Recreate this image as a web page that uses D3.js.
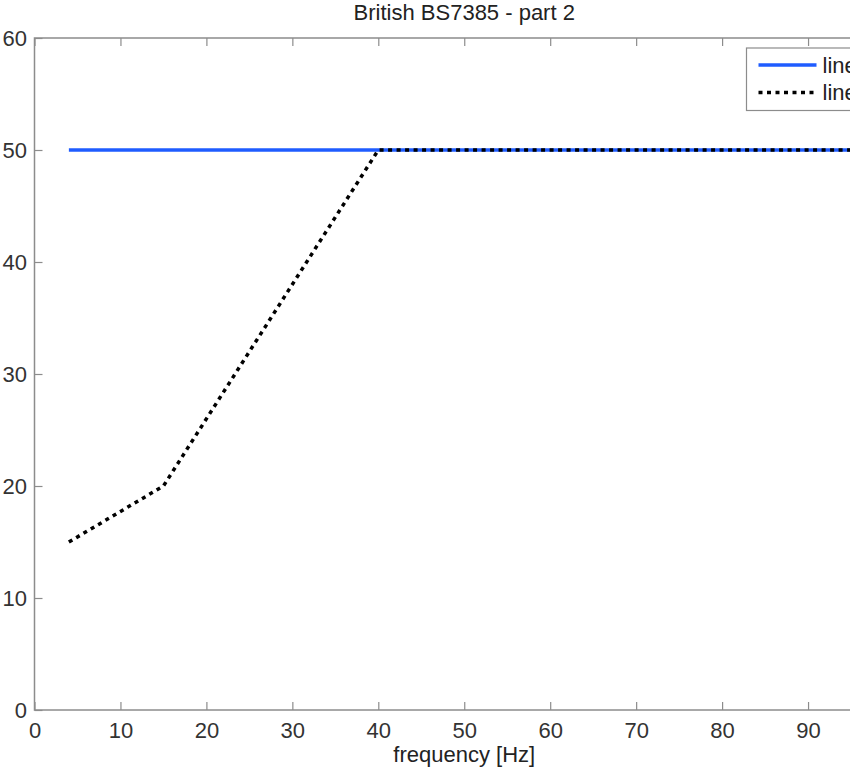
<!DOCTYPE html>
<html>
<head>
<meta charset="utf-8">
<script src="https://cdn.jsdelivr.net/npm/d3@7"></script>
<style>
  body { margin: 0; background: #fff; }
  svg { display: block; font-family: "Liberation Sans", Arial, sans-serif; }
</style>
</head>
<body>
<div id="chart"></div>
<script>

// data
var limitFreq = [4, 100];
var limitVal = [50, 50];
var curveFreq = [4, 15, 40, 100];
var curveVal = [15, 20, 50, 50];
var xTicks = [0, 10, 20, 30, 40, 50, 60, 70, 80, 90, 100];
var yTicks = [0, 10, 20, 30, 40, 50, 60];
var legendNames = ["line 1", "line 2"];

// dimensions (the plot runs past the right edge of the window)
var margin = {top: 38, right: -44, bottom: 61, left: 34.5},
  W = 850, H = 771,
  width = W - margin.left - margin.right,
  height = H - margin.top - margin.bottom;

var svg = d3.select("#chart")
.append("svg")
  .attr("width", W)
  .attr("height", H)
.append("g")
  .attr("transform", "translate(" + margin.left + "," + margin.top + ")");

var x = d3.scaleLinear().domain([0, 100]).range([0, width]);
var y = d3.scaleLinear().domain([0, 60]).range([height, 0]);

var axisColor = "#8c8c8c", textColor = "#333";

// axes (ticks point inward, mirrored on top/right)
function styleAxis(g) {
  g.select(".domain").remove();
  g.selectAll(".tick line").attr("stroke", axisColor).attr("stroke-width", 1.2);
  g.selectAll(".tick text").attr("fill", textColor).style("font-size", "22px");
}

svg.append("g")
  .attr("transform", "translate(0," + height + ")")
  .call(d3.axisBottom(x).tickValues(xTicks).tickSize(-8).tickPadding(12))
  .call(styleAxis);

svg.append("g")
  .call(d3.axisTop(x).tickValues(xTicks).tickSize(-8).tickFormat(""))
  .call(styleAxis);

svg.append("g")
  .call(d3.axisLeft(y).tickValues(yTicks).tickSize(-8).tickPadding(7.5))
  .call(styleAxis);

svg.append("g")
  .attr("transform", "translate(" + width + ",0)")
  .call(d3.axisRight(y).tickValues(yTicks).tickSize(-8).tickFormat(""))
  .call(styleAxis);

// box
svg.append("rect")
  .attr("x", 0).attr("y", 0)
  .attr("width", width).attr("height", height)
  .attr("fill", "none")
  .attr("stroke", axisColor)
  .attr("stroke-width", 1.5);

var line = d3.line()
  .x(function(d) { return x(d[0]); })
  .y(function(d) { return y(d[1]); });

svg.append("path")
  .datum(d3.zip(limitFreq, limitVal))
  .attr("d", line)
  .attr("fill", "none")
  .attr("stroke", "#1f5cff")
  .attr("stroke-width", 3.5);

svg.append("path")
  .datum(d3.zip(curveFreq, curveVal))
  .attr("d", line)
  .attr("fill", "none")
  .attr("stroke", "#000")
  .attr("stroke-width", 3.5)
  .attr("stroke-dasharray", "4,4.5");

// title
svg.append("text")
  .attr("x", width / 2)
  .attr("y", -18)
  .attr("text-anchor", "middle")
  .attr("fill", "#222")
  .style("font-size", "22px")
  .text("British BS7385 - part 2");

// x label
svg.append("text")
  .attr("x", width / 2)
  .attr("y", height + 52)
  .attr("text-anchor", "middle")
  .attr("fill", "#222")
  .style("font-size", "22px")
  .text("frequency [Hz]");

// legend
var leg = svg.append("g")
  .attr("transform", "translate(" + (746.5 - margin.left) + "," + (48 - margin.top) + ")");

leg.append("rect")
  .attr("width", 150).attr("height", 62.5)
  .attr("fill", "#fff")
  .attr("stroke", axisColor)
  .attr("stroke-width", 1.2);

var styles = [
  {color: "#1f5cff", dash: null},
  {color: "#000", dash: "4,4.5"}
];

legendNames.forEach(function(name, i) {
  var yy = 17 + i * 27.5;
  leg.append("line")
    .attr("x1", 12).attr("x2", 70)
    .attr("y1", yy).attr("y2", yy)
    .attr("stroke", styles[i].color)
    .attr("stroke-width", 3.5)
    .attr("stroke-dasharray", styles[i].dash);
  leg.append("text")
    .attr("x", 76)
    .attr("y", yy)
    .attr("dy", "0.35em")
    .attr("fill", "#222")
    .style("font-size", "22px")
    .text(name);
});

</script>
</body>
</html>
